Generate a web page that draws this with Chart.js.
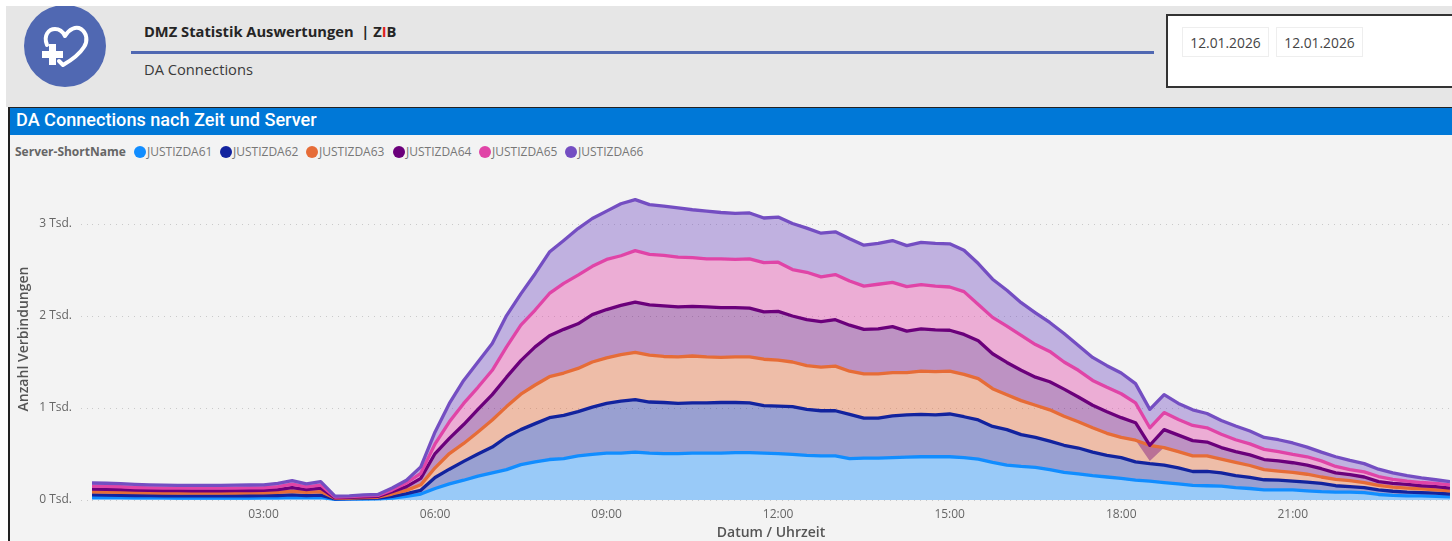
<!DOCTYPE html>
<html lang="de">
<head>
<meta charset="utf-8">
<title>DA Connections</title>
<script src="https://cdn.jsdelivr.net/npm/chart.js@4/dist/chart.umd.min.js"></script>
<style>
html,body{margin:0;padding:0;width:1452px;height:541px;overflow:hidden;background:#fff;font-family:"Open Sans",sans-serif}
.abs{position:absolute;white-space:nowrap}
#top{left:6px;top:6px;width:1446px;height:101px;background:#e6e6e6;overflow:hidden}
#logo{left:0;top:0}
#h1{left:144px;top:21px;font-size:14.7px;font-weight:700;color:#252525;line-height:20px}
#h1 i{font-style:normal;color:#e02020}
#rule{left:131px;top:51px;width:1023px;height:3px;background:#5068b2}
#h2{left:144px;top:59px;font-size:14.7px;color:#3a3a3a;line-height:20px}
#dates{left:1166px;top:14px;width:290px;height:70px;background:#fff;border:2px solid #333}
.pill{top:27px;width:85px;height:28px;border:1px solid #eee;background:#fff;font-size:13.8px;color:#444;line-height:29px;text-align:center}
#panel{left:8px;top:107px;width:1446px;height:436px;background:#f3f3f3;border-left:2px solid #222;border-top:1px solid #222;box-sizing:border-box}
#bar{left:10px;top:108px;width:1442px;height:27px;background:#0078d7;color:#fff;font-family:Roboto,sans-serif;font-weight:500;font-size:18.1px;line-height:23px;text-indent:6px}
#legendTitle{left:15px;top:144px;font-size:12px;font-weight:700;color:#666;line-height:16px}
.dot{top:146px;width:12px;height:12px;border-radius:50%}
.lt{top:144px;font-size:12px;color:#777;line-height:16px}
#wrap{left:9px;top:136px;width:1443px;height:405px}
</style>
</head>
<body>
<div class="abs" id="top"></div>
<svg class="abs" id="logo" width="130" height="100" viewBox="0 0 130 100">
  <clipPath id="cp"><rect x="6" y="6" width="124" height="94"/></clipPath>
  <circle cx="65" cy="46" r="41" fill="#5068b2" clip-path="url(#cp)"/>
  <path d="M47,45 C43,35 49,29 55,29 C60,29 63,32 65,36 C69,29 76,26 81,29 C87,33 88,41 84,47 C79,55 70,61 63,65 L59,61" fill="none" stroke="#fff" stroke-width="4" stroke-linecap="round" stroke-linejoin="round"/>
  <path d="M49,44 h7 v7 h7 v7 h-7 v7 h-7 v-7 h-7 v-7 h7 z" fill="#fff"/>
</svg>
<div class="abs" id="h1">DMZ Statistik Auswertungen &nbsp;| Z<i>I</i>B</div>
<div class="abs" id="rule"></div>
<div class="abs" id="h2">DA Connections</div>
<div class="abs" id="dates"></div>
<div class="abs pill" style="left:1182px">12.01.2026</div>
<div class="abs pill" style="left:1276px">12.01.2026</div>
<div class="abs" id="panel"></div>
<div class="abs" id="bar">DA Connections nach Zeit und Server</div>
<div class="abs" id="legendTitle">Server-ShortName</div>
<div id="legend"></div>
<div class="abs" id="wrap"><canvas id="c" width="1443" height="405"></canvas></div>
<script>
const categories = [
'00:00','00:15','00:30','00:45','01:00','01:15','01:30','01:45','02:00','02:15','02:30','02:45',
'03:00','03:15','03:30','03:45','04:00','04:15','04:30','04:45','05:00','05:15','05:30','05:45',
'06:00','06:15','06:30','06:45','07:00','07:15','07:30','07:45','08:00','08:15','08:30','08:45',
'09:00','09:15','09:30','09:45','10:00','10:15','10:30','10:45','11:00','11:15','11:30','11:45',
'12:00','12:15','12:30','12:45','13:00','13:15','13:30','13:45','14:00','14:15','14:30','14:45',
'15:00','15:15','15:30','15:45','16:00','16:15','16:30','16:45','17:00','17:15','17:30','17:45',
'18:00','18:15','18:30','18:45','19:00','19:15','19:30','19:45','20:00','20:15','20:30','20:45',
'21:00','21:15','21:30','21:45','22:00','22:15','22:30','22:45','23:00','23:15','23:30','23:45'];
const xTickLabels = ['03:00','06:00','09:00','12:00','15:00','18:00','21:00'];
const yTickValues = [0,1000,2000,3000];
const serverNames = ['JUSTIZDA61','JUSTIZDA62','JUSTIZDA63','JUSTIZDA64','JUSTIZDA65','JUSTIZDA66'];
const serverColors = ['#118DFF','#12239E','#E66C37','#6B007B','#E044A7','#744EC2'];
const serverFills = ['rgba(17,141,255,.4)','rgba(18,35,158,.4)','rgba(230,108,55,.4)','rgba(107,0,123,.4)','rgba(224,68,167,.4)','rgba(116,78,194,.4)'];

const justizda61 = [26,25,25,24,23,23,22,22,22,22,22,22,23,24,28,25,28,8,9,10,12,20,40,65,
125,175,215,260,295,330,385,415,440,450,480,495,510,510,520,510,505,505,510,510,510,515,515,510,
505,495,485,480,480,450,455,455,460,465,470,470,470,460,445,410,380,365,355,330,300,285,265,250,
235,215,205,190,175,160,155,150,135,125,110,110,110,100,90,85,85,80,60,50,45,45,40,35];
const justizda62 = [29,28,26,25,24,23,23,23,23,23,24,24,24,25,27,23,25,5,6,8,8,20,30,40,
120,160,205,240,280,355,380,415,455,470,480,515,540,565,570,555,555,545,545,545,550,545,540,515,
515,520,500,490,490,480,435,435,455,460,460,455,465,445,425,390,385,345,325,310,295,280,255,235,
225,200,190,190,175,150,155,145,130,120,110,105,95,95,90,70,60,55,50,45,40,35,35,30];
const justizda63 = [33,33,33,31,30,30,30,30,30,30,30,31,31,33,40,34,39,5,6,8,10,25,35,60,
105,170,195,240,295,330,385,420,445,460,470,490,495,505,515,510,500,505,510,500,490,495,500,505,
500,485,475,475,485,470,480,480,470,460,470,470,465,460,450,410,380,370,350,340,315,285,265,240,
220,235,200,190,175,170,170,150,145,130,110,100,95,85,70,70,65,55,50,45,45,40,35,35];
const justizda64 = [30,30,28,27,27,26,26,25,25,25,26,26,26,30,40,30,36,6,7,8,10,25,40,70,
155,165,205,245,275,320,365,415,445,475,485,515,525,535,545,545,550,545,540,545,540,535,530,515,
530,500,500,495,505,500,485,490,500,450,460,455,445,435,410,380,350,330,305,305,295,270,245,235,
215,190,0,195,180,165,150,125,115,115,110,110,105,100,90,70,65,60,40,40,40,35,35,30];
const justizda65 = [32,32,32,29,28,27,27,28,28,28,28,28,29,33,37,30,34,8,8,10,10,20,40,55,
105,180,230,240,265,330,385,400,460,500,530,525,545,540,560,550,550,540,530,520,530,525,535,535,
535,505,515,485,490,480,470,485,480,485,480,475,470,465,395,395,395,380,355,330,295,290,270,265,
260,215,190,185,170,165,155,145,130,120,110,100,90,90,85,70,55,55,55,45,35,35,35,35];
const justizda66 = [35,34,34,34,33,33,32,32,32,32,32,32,32,35,38,33,38,10,9,11,10,20,30,70,
130,200,250,275,290,340,340,395,450,465,505,520,525,565,555,540,535,535,520,520,505,500,500,485,
490,500,480,475,465,460,445,445,455,445,460,465,470,450,445,415,390,355,345,315,310,270,250,235,
225,210,200,195,175,170,155,150,150,140,130,130,125,105,95,105,100,90,80,70,60,50,40,35];
const serverValues = [justizda61,justizda62,justizda63,justizda64,justizda65,justizda66];

/* the small darker wedge under the 18:30 dip */
const dipTimes = ['18:15','18:30','18:45'];
const dipLower = [650,425,570];
const dipDepth = [0,170,0];

/* legend, same look as the report's inline legend */
const legendDotX = [134,220,306,393,479,565];
const legendEl = document.getElementById('legend');
serverNames.forEach((n,i)=>{
  const d=document.createElement('div');d.className='abs dot';d.style.left=legendDotX[i]+'px';d.style.background=serverColors[i];legendEl.appendChild(d);
  const t=document.createElement('div');t.className='abs lt';t.style.left=(legendDotX[i]+13)+'px';t.textContent=n;legendEl.appendChild(t);
});

const datasets = serverNames.map((n,i)=>({
  label:n,
  data:serverValues[i],
  borderColor:serverColors[i],
  backgroundColor:serverFills[i],
  borderWidth:3.3,
  pointRadius:0,
  tension:0,
  borderJoinStyle:'round',
  fill:i===0?'origin':'-1',
  order:0,
  stack:'servers'
}));
const pick = arr => categories.map(c=>{const k=dipTimes.indexOf(c);return k<0?null:arr[k];});
datasets.push({label:'dipLower',data:pick(dipLower),borderWidth:0,pointRadius:0,fill:false,order:-1,stack:'dip',borderColor:'transparent'});
datasets.push({label:'dipBand',data:pick(dipDepth),borderWidth:0,pointRadius:0,fill:'-1',backgroundColor:'rgba(107,0,123,.4)',order:-1,stack:'dip',borderColor:'transparent'});

/* paint the lines bottom series first so the upper series lie on top, as in the report */
const paintOrder = {
  id:'paintOrder',
  beforeDatasetsDraw(chart){
    const a=chart.chartArea, ctx=chart.ctx;
    ctx.save();
    ctx.beginPath();
    ctx.rect(a.left,a.top-4,a.right-a.left,a.bottom-a.top+6);
    ctx.clip();
    chart.data.datasets.forEach((d,i)=>{chart.getDatasetMeta(i).controller.draw();});
    ctx.restore();
    return false;
  }
};

new Chart(document.getElementById('c'),{
  type:'line',
  data:{labels:categories,datasets},
  plugins:[paintOrder],
  options:{
    responsive:false,
    animation:false,
    layout:{padding:{top:42,right:2,left:0,bottom:0}},
    plugins:{legend:{display:false},tooltip:{enabled:false},filler:{drawTime:'beforeDatasetsDraw'}},
    scales:{
      x:{
        type:'category',
        offset:false,
        grid:{display:false,drawTicks:false},
        border:{display:false},
        ticks:{
          autoSkip:false,maxRotation:0,minRotation:0,padding:7,
          color:'#666',font:{family:'"Open Sans"',size:12},
          callback(v){const l=this.getLabelForValue(v);return xTickLabels.includes(l)?l:'';}
        },
        title:{display:true,text:'Datum / Uhrzeit',color:'#555',font:{family:'"Open Sans"',size:14,weight:'600'},padding:{top:1,bottom:0}},
        afterFit(s){s.height=41;s.paddingLeft=0;s.paddingRight=0;}
      },
      y:{
        stacked:true,
        min:0,max:3500,
        grid:{color:'#c9c9c9',tickColor:'#c9c9c9',lineWidth:1,tickBorderDash:[1,5],tickLength:11,drawTicks:true},
        border:{display:false,dash:[1,5]},
        afterBuildTicks(s){s.ticks=yTickValues.map(v=>({value:v}));},
        ticks:{
          padding:9,color:'#666',font:{family:'"Open Sans"',size:12},
          callback(v){return (v/1000)+' Tsd.';}
        },
        title:{display:true,text:'Anzahl Verbindungen',color:'#555',font:{family:'"Open Sans"',size:14,weight:'600'},padding:{top:7,bottom:0}},
        afterFit(s){s.width=83;}
      }
    }
  }
});
</script>
</body>
</html>
